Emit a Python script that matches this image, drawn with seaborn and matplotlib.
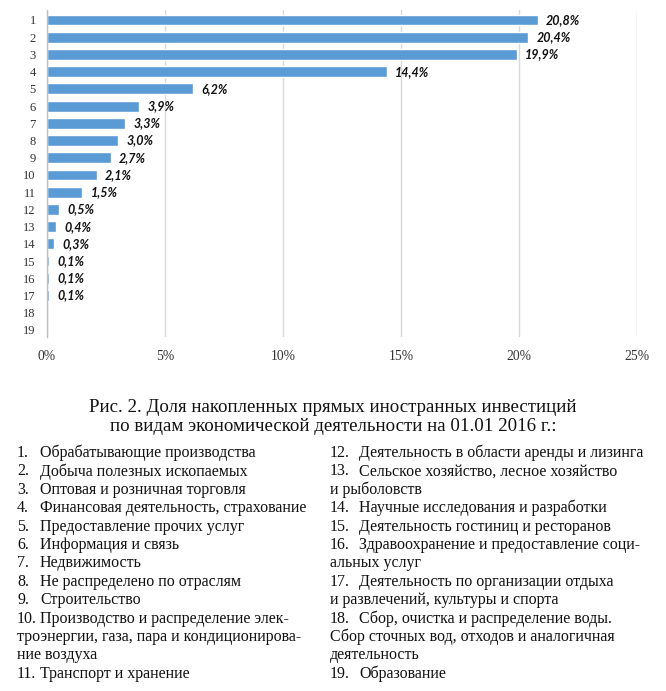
import matplotlib
matplotlib.use("Agg")
import matplotlib.pyplot as plt
import seaborn as sns
import pandas as pd

categories = [str(i) for i in range(1, 20)]
values = [20.8, 20.4, 19.9, 14.4, 6.2, 3.9, 3.3, 3.0, 2.7, 2.1, 1.5,
          0.5, 0.4, 0.3, 0.1, 0.1, 0.1, 0.0, 0.0]
x_ticks = [0, 5, 10, 15, 20, 25]
x_tick_labels = ["0%", "5%", "10%", "15%", "20%", "25%"]

caption_lines = [
    "Рис. 2. Доля накопленных прямых иностранных инвестиций",
    "по видам экономической деятельности на 01.01 2016 г.:",
]
# (number, text) ; number None means continuation line
left_lines = [
    ("1.", "Обрабатывающие производства"),
    ("2.", "Добыча полезных ископаемых"),
    ("3.", "Оптовая и розничная торговля"),
    ("4.", "Финансовая деятельность, страхование"),
    ("5.", "Предоставление прочих услуг"),
    ("6.", "Информация и связь"),
    ("7.", "Недвижимость"),
    ("8.", "Не распределено по отраслям"),
    ("9.", "Строительство"),
    ("10.", "Производство и распределение элек-"),
    (None, "троэнергии, газа, пара и кондиционирова-"),
    (None, "ние воздуха"),
    ("11.", "Транспорт и хранение"),
]
right_lines = [
    ("12.", "Деятельность в области аренды и лизинга"),
    ("13.", "Сельское хозяйство, лесное хозяйство"),
    (None, "и рыболовств"),
    ("14.", "Научные исследования и разработки"),
    ("15.", "Деятельность гостиниц и ресторанов"),
    ("16.", "Здравоохранение и предоставление соци-"),
    (None, "альных услуг"),
    ("17.", "Деятельность по организации отдыха"),
    (None, "и развлечений, культуры и спорта"),
    ("18.", "Сбор, очистка и распределение воды."),
    (None, "Сбор сточных вод, отходов и аналогичная"),
    (None, "деятельность"),
    ("19.", "Образование"),
]

df = pd.DataFrame({"cat": categories, "val": values})

sns.set_theme(style="white")
plt.rcParams["font.family"] = ["Liberation Serif", "DejaVu Serif"]

W, H = 666, 691
fig = plt.figure(figsize=(W / 100, H / 100), dpi=100)
ax = fig.add_axes([47 / W, 1 - 337 / H, (637 - 47) / W, (337 - 10) / H])

sns.barplot(data=df, x="val", y="cat", orient="h", color="#5b9bd5",
            width=0.63, saturation=1, ax=ax)

ax.set_xlim(0, 25)
ax.set_ylim(18.41, -0.58)
ax.set_xticks(x_ticks)
ax.set_xticklabels(x_tick_labels, fontsize=9.8, color="#333333")
ax.tick_params(axis="y", labelsize=9, colors="#333333", length=0, pad=8)
ax.tick_params(axis="x", length=0, pad=9)
ax.set_xlabel("")
ax.set_ylabel("")
ax.grid(axis="x", color="#d9d9d9", linewidth=1)
ax.set_axisbelow(True)
for s in ["top", "right", "bottom"]:
    ax.spines[s].set_visible(False)
ax.spines["left"].set_color("#bfbfbf")
ax.spines["left"].set_linewidth(1)

for i, v in enumerate(values):
    if v > 0:
        ax.annotate(f"{v:.1f}%".replace(".", ","), xy=(v, i), xytext=(6, 0),
                    textcoords="offset points", va="center", ha="left",
                    fontsize=9, fontweight="bold", fontstyle="italic",
                    family="Lato", color="#111111")

# caption
fig.text(333 / W, 1 - 408 / H, caption_lines[0], ha="center", va="center",
         fontsize=13.6, color="#111111")
fig.text(333 / W, 1 - 427 / H, caption_lines[1], ha="center", va="center",
         fontsize=13.6, color="#111111")

y0 = 453
dy = 18.4
fs = 11.5
for col, (xn, xt) in zip([left_lines, right_lines], [(17, 40), (330, 359)]):
    for k, (num, txt) in enumerate(col):
        y = 1 - (y0 + k * dy) / H
        if num is None:
            fig.text(xn / W, y, txt, ha="left", va="center", fontsize=fs,
                     color="#111111")
        else:
            fig.text(xn / W, y, num, ha="left", va="center", fontsize=fs,
                     color="#111111")
            fig.text(xt / W, y, txt, ha="left", va="center", fontsize=fs,
                     color="#111111")

fig.savefig("out.png", dpi=100, facecolor="white")
